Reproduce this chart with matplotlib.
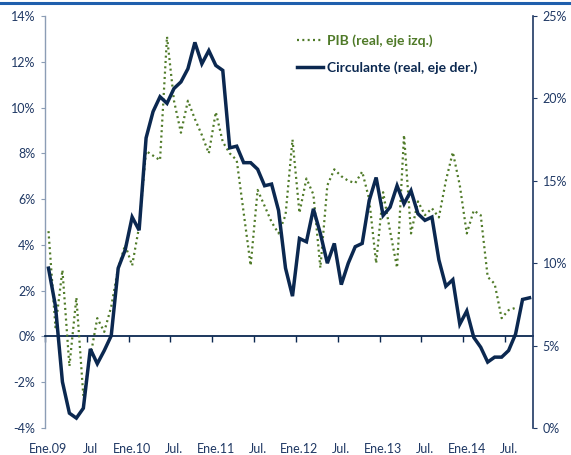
import matplotlib
matplotlib.use("Agg")
import matplotlib.pyplot as plt
from matplotlib.lines import Line2D
import numpy as np

plt.rcParams['font.family'] = ['Lato', 'DejaVu Sans']

x_labels = ['Ene.09', 'Jul', 'Ene.10', 'Jul.', 'Ene.11', 'Jul.', 'Ene.12', 'Jul.',
            'Ene.13', 'Jul.', 'Ene.14', 'Jul.']

pib = [4.6, 0.4, 2.9, -1.3, 1.7, -2.6, -0.9, 0.8, 0.2, 1.3,
       3.0, 4.0, 3.1, 4.8, 8.1, 7.9, 7.7, 13.1, 10.3, 8.9,
       10.3, 9.5, 8.8, 8.0, 9.8, 8.5, 8.0, 7.7, 5.4, 3.1,
       6.4, 5.7, 5.0, 4.5, 5.3, 8.6, 5.4, 6.9, 6.2, 3.0,
       6.6, 7.3, 7.0, 6.8, 6.7, 7.2, 6.0, 3.2, 6.3, 4.6,
       3.0, 8.8, 4.5, 5.9, 5.3, 5.6, 5.2, 6.8, 8.05, 6.6,
       4.5, 5.5, 5.3, 2.6, 2.3, 0.8, 1.15, 1.25]

circulante = [9.7, 7.4, 2.8, 0.9, 0.6, 1.2, 4.8, 3.9, 4.7, 5.6,
              9.7, 10.8, 12.8, 12.0, 17.6, 19.2, 20.1, 19.7, 20.6, 21.0,
              21.8, 23.4, 22.1, 22.9, 22.0, 21.7, 17.0, 17.1, 16.1, 16.1,
              15.7, 14.7, 14.8, 13.2, 9.7, 8.0, 11.5, 11.3, 13.3, 11.8,
              10.0, 11.2, 8.7, 10.0, 11.0, 11.2, 13.8, 15.2, 12.9, 13.4,
              14.7, 13.6, 14.4, 13.0, 12.6, 12.8, 10.2, 8.6, 9.0, 6.3,
              7.1, 5.5, 4.9, 4.0, 4.3, 4.3, 4.7, 5.7, 7.8, 7.9]

navy = '#0B2850'
axis_col = '#1F3864'
green = '#4F7A28'

fig = plt.figure(figsize=(5.71, 4.55), dpi=100)
ax = fig.add_axes([45/571, 1-428/455, (533-45)/571, (428-16)/455])
ax2 = ax.twinx()

xp = np.arange(len(pib))
xc = np.arange(len(circulante))

lp, = ax.plot(xp, pib, color=green, lw=1.6, linestyle=(0, (0.9, 1.5)),
              dash_capstyle='butt', label='PIB (real, eje izq.)', zorder=3)
lc, = ax2.plot(xc, circulante, color=navy, lw=2.5, solid_joinstyle='miter',
               label='Circulante (real, eje der.)', zorder=4)

ax.set_xlim(-0.5, 69.5)
ax.set_ylim(-4, 14)
ax2.set_ylim(0, 25)

ax.set_yticks(np.arange(-4, 15, 2))
ax.set_yticklabels([f'{v}%' for v in range(-4, 15, 2)])
ax2.set_yticks(np.arange(0, 26, 5))
ax2.set_yticklabels([f'{v}%' for v in range(0, 26, 5)])

for a in (ax, ax2):
    a.spines['top'].set_visible(False)
ax.spines['right'].set_visible(False)
ax2.spines['left'].set_visible(False)
ax2.spines['bottom'].set_visible(False)
ax.spines['left'].set_color('#8C9DB5')
ax.spines['left'].set_linewidth(1.0)
ax2.spines['right'].set_color(axis_col)
ax2.spines['right'].set_linewidth(1.2)

ax.spines['bottom'].set_position(('data', 0))
ax.spines['bottom'].set_color(navy)
ax.spines['bottom'].set_linewidth(1.3)
ax.set_xticks(np.arange(-0.5, 66, 6))
ax.tick_params(axis='x', direction='out', length=4, width=1.0, color=navy,
               labelbottom=False)

ax.tick_params(axis='y', direction='out', length=3, color='#8C9DB5',
               labelcolor=axis_col, labelsize=9, pad=4)
ax2.tick_params(axis='y', direction='out', length=3, color=axis_col,
                labelcolor=axis_col, labelsize=9, pad=4)

sec = ax.secondary_xaxis(0.0)
sec.set_xticks(np.arange(0, 67, 6))
sec.set_xticklabels(x_labels)
sec.spines['bottom'].set_visible(False)
sec.tick_params(axis='x', length=0, pad=11, labelcolor=axis_col, labelsize=9)

leg = ax2.legend(handles=[lp, lc], loc='upper left', bbox_to_anchor=(0.505, 0.97),
                 frameon=False, fontsize=10, handlelength=1.85, handletextpad=0.3,
                 labelspacing=1.05, borderaxespad=0)
for t, c in zip(leg.get_texts(), [green, navy]):
    t.set_color(c)
    t.set_fontweight('bold')

fig.add_artist(Line2D([0, 1], [1-3/455, 1-3/455], transform=fig.transFigure,
                      color='#1F5FAD', lw=2.2))

fig.savefig('out.png', dpi=100)
